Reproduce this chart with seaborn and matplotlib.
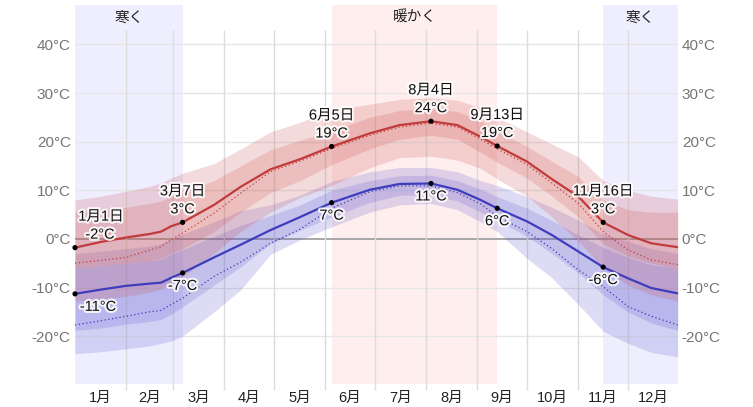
import numpy as np
import pandas as pd
import matplotlib
matplotlib.use("Agg")
import matplotlib.pyplot as plt
import matplotlib.patheffects as pe
import matplotlib.transforms as mtransforms
import seaborn as sns

# ---------------- data ----------------
days = [0, 16, 31, 45, 52, 58, 65, 84, 100, 118, 136, 155, 178, 196, 215, 231,
        245, 255, 273, 288, 304, 319, 334, 348, 364]

high_avg = [-1.8, -0.6, 0.3, 1.0, 1.5, 2.6, 3.4, 7.0, 10.7, 14.3, 16.4, 19.0, 21.7,
            23.4, 24.2, 23.4, 21.0, 19.1, 15.9, 12.3, 8.7, 3.4, 0.8, -0.9, -1.7]
high_feel = [-5.0, -4.4, -3.8, -2.3, -1.6, -0.2, 1.2, 5.3, 9.4, 13.8, 16.0, 18.6, 21.3,
             23.0, 23.8, 23.0, 20.5, 18.5, 15.3, 11.5, 7.3, 1.5, -2.3, -4.3, -5.3]
high_p90 = [8.0, 8.8, 9.8, 10.8, 11.5, 12.5, 13.5, 15.5, 18.5, 22.0, 24.0, 26.5, 27.7,
            28.7, 29.0, 28.5, 27.0, 25.0, 22.0, 19.5, 16.9, 12.0, 10.0, 8.8, 8.2]
high_p75 = [5.5, 6.0, 6.5, 7.3, 7.8, 8.8, 9.5, 12.0, 15.0, 18.3, 20.3, 22.2, 25.0,
            26.4, 26.8, 26.2, 24.2, 22.2, 19.0, 16.0, 12.8, 8.0, 6.0, 5.5, 5.5]
high_p25 = [-6.0, -5.5, -5.0, -4.5, -4.0, -3.0, -2.0, 1.5, 5.5, 9.5, 12.0, 15.3, 18.5,
            20.5, 21.3, 20.5, 17.8, 15.8, 12.5, 8.8, 4.5, -1.0, -3.5, -5.0, -6.0]
high_p10 = [-12.8, -12.3, -11.8, -11.0, -10.3, -9.0, -7.8, -3.0, 1.5, 5.5, 8.5, 11.0,
            14.6, 16.7, 17.0, 16.2, 14.5, 12.3, 8.8, 4.5, -0.5, -6.0, -9.5, -11.5, -12.8]

low_avg = [-11.3, -10.4, -9.65, -9.2, -9.0, -8.0, -7.0, -3.8, -1.2, 1.8, 4.5, 7.45,
           10.1, 11.3, 11.4, 10.1, 8.0, 6.3, 3.6, 0.8, -2.6, -5.8, -8.1, -10.1, -11.2]
low_feel = [-17.7, -16.8, -15.9, -15.0, -14.7, -13.5, -12.2, -7.7, -4.8, -0.9, 2.0, 6.3,
            9.7, 10.9, 10.9, 9.5, 7.2, 4.6, 1.5, -2.0, -6.4, -9.8, -13.9, -15.9, -17.7]
low_p90 = [-3.0, -2.5, -2.0, -1.5, -1.0, 0.0, 1.0, 3.5, 5.8, 7.0, 9.0, 11.8, 13.8,
           14.7, 14.7, 13.8, 12.0, 11.0, 8.7, 6.5, 3.9, 1.0, -0.5, -2.0, -3.0]
low_p75 = [-6.0, -5.5, -5.0, -4.5, -4.2, -3.2, -2.2, 0.5, 2.8, 4.8, 7.0, 10.0, 12.0,
           13.0, 13.1, 12.0, 10.2, 8.7, 6.3, 3.8, 0.8, -1.8, -3.8, -5.3, -6.0]
low_p25 = [-18.8, -18.3, -17.5, -17.0, -16.5, -15.5, -14.0, -9.5, -5.8, -1.0, 1.8, 4.5,
           7.5, 9.0, 9.0, 7.8, 5.5, 3.8, 0.5, -3.0, -7.0, -11.5, -15.0, -17.3, -18.8]
low_p10 = [-23.6, -23.2, -22.6, -22.0, -21.5, -21.0, -20.0, -15.0, -10.5, -3.2, -0.2, 2.5,
           5.5, 7.0, 7.3, 6.0, 3.5, 1.5, -4.0, -8.0, -13.5, -19.0, -21.5, -23.3, -24.3]

key_days = [0, 65, 155, 215, 255, 319]
key_dates = ["1月1日", "3月7日", "6月5日", "8月4日", "9月13日", "11月16日"]
key_high = [-1.8, 3.4, 19.0, 24.2, 19.1, 3.4]
key_low = [-11.3, -7.0, 7.45, 11.4, 6.3, -5.8]
high_labels = ["-2°C", "3°C", "19°C", "24°C", "19°C", "3°C"]
low_labels = ["-11°C", "-7°C", "7°C", "11°C", "6°C", "-6°C"]

cold_periods = [(0, 65), (319, 364)]
warm_periods = [(155, 255)]
cold_label = "寒く"
warm_label = "暖かく"

month_starts = [0, 31, 59, 90, 120, 151, 181, 212, 243, 273, 304, 334, 365]
month_labels = ["1月", "2月", "3月", "4月", "5月", "6月", "7月", "8月", "9月",
                "10月", "11月", "12月"]
y_ticks = [-20, -10, 0, 10, 20, 30, 40]
y_tick_labels = ["-20°C", "-10°C", "0°C", "10°C", "20°C", "30°C", "40°C"]

# ---------------- style ----------------
sns.set_theme(style="white")
plt.rcParams['font.family'] = ['Liberation Sans', 'Noto Sans CJK JP', 'DejaVu Sans']

W, H = 753, 407
fig = plt.figure(figsize=(W / 100, H / 100), dpi=100)
left, right, top, bottom = 75, 677.7, 5, 384.3
ax = fig.add_axes([left / W, 1 - bottom / H, (right - left) / W, (bottom - top) / H])
ax.set_xlim(0, 364)
ax.set_ylim(-29.9, 48.1)
for s in ax.spines.values():
    s.set_visible(False)
ax.set_facecolor('white')

# background seasons
for a, b in cold_periods:
    ax.axvspan(a, b, color='#eeeeff', lw=0, zorder=0)
for a, b in warm_periods:
    ax.axvspan(a, b, color='#ffeeee', lw=0, zorder=0)

lab_tr = mtransforms.blended_transform_factory(ax.transData, ax.transAxes)
yfrac = (bottom - 18) / (bottom - top)
for a, b in cold_periods:
    ax.text((a + b) / 2, yfrac, cold_label, transform=lab_tr, ha='center', va='center',
            fontsize=10.5, color='#222222', zorder=6)
for a, b in warm_periods:
    ax.text((a + b) / 2, yfrac, warm_label, transform=lab_tr, ha='center', va='center',
            fontsize=10.5, color='#222222', zorder=6)

# grid
for t in y_ticks:
    if t == 0:
        ax.axhline(t, color='#a8a8a8', lw=1.4, zorder=1)
    else:
        ax.axhline(t, color='#e6e6e6', lw=1.0, zorder=1)
ax.vlines(month_starts[1:12], -31.1, 42.9, colors='#dcdcdc', lw=1.0, zorder=1, clip_on=False)

# bands
red = (0.80, 0.30, 0.30)
blue = (0.36, 0.33, 0.80)
ax.fill_between(days, low_p10, low_p90, color=blue, alpha=0.2, lw=0, zorder=2)
ax.fill_between(days, low_p25, low_p75, color=blue, alpha=0.2, lw=0, zorder=2)
ax.fill_between(days, high_p10, high_p90, color=red, alpha=0.2, lw=0, zorder=2)
ax.fill_between(days, high_p25, high_p75, color=red, alpha=0.2, lw=0, zorder=2)

# lines
df_solid = pd.DataFrame({
    'day': days * 2,
    'temp': high_avg + low_avg,
    'series': ['high'] * len(days) + ['low'] * len(days),
})
df_dot = pd.DataFrame({
    'day': days * 2,
    'temp': high_feel + low_feel,
    'series': ['high'] * len(days) + ['low'] * len(days),
})
pal = {'high': '#c03c3c', 'low': '#3d3dbd'}
sns.lineplot(data=df_solid, x='day', y='temp', hue='series', palette=pal, lw=1.6,
             legend=False, ax=ax, zorder=4)
sns.lineplot(data=df_dot, x='day', y='temp', hue='series', palette=pal, lw=0.9,
             legend=False, ax=ax, zorder=3, dashes=False, linestyle=(0, (1, 2)))

# key points
df_keys = pd.DataFrame({'day': key_days * 2, 'temp': key_high + key_low})
sns.scatterplot(data=df_keys, x='day', y='temp', color='black', s=14, edgecolor='none',
                ax=ax, zorder=5, clip_on=False)

halo = [pe.withStroke(linewidth=3, foreground='white', alpha=0.85)]
for i, d in enumerate(key_days):
    dx = 25 if d == 0 else 0
    ax.annotate(key_dates[i], (d, key_high[i]), xytext=(dx + (1 if d == 0 else 0), 31),
                textcoords='offset pixels', ha='center', va='center', fontsize=10.5,
                color='#111111', path_effects=halo, zorder=6)
    ax.annotate(high_labels[i], (d, key_high[i]), xytext=(dx, 13),
                textcoords='offset pixels', ha='center', va='center', fontsize=10.5,
                color='#111111', path_effects=halo, zorder=6)
    ax.annotate(low_labels[i], (d, key_low[i]), xytext=(23 if d == 0 else 0, -13),
                textcoords='offset pixels', ha='center', va='center', fontsize=10.5,
                color='#111111', path_effects=halo, zorder=6)

# axes ticks
mids = [(month_starts[i] + month_starts[i + 1]) / 2 for i in range(12)]
ax.set_xticks(mids)
ax.set_xticklabels(month_labels, fontsize=10.5, color='#222222')
ax.set_yticks(y_ticks)
ax.set_yticklabels(y_tick_labels, fontsize=11, color='#757575')
ax.tick_params(axis='x', length=0, pad=5)
ax.tick_params(axis='y', length=0, pad=3, labelleft=True, labelright=True)
ax.set_xlabel('')
ax.set_ylabel('')
ax.grid(False)

fig.savefig('out.png', dpi=100)
